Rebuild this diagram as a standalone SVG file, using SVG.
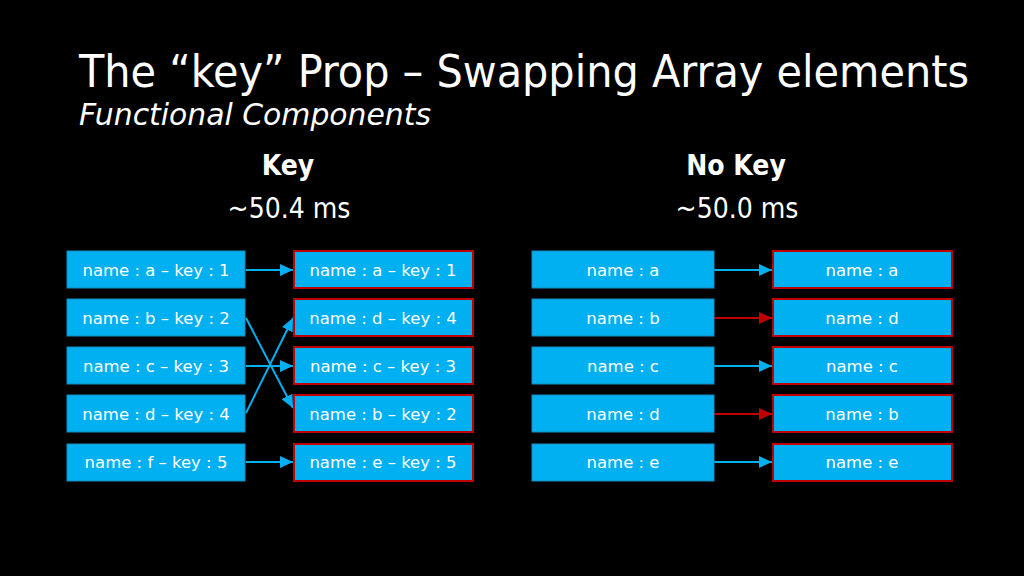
<svg xmlns="http://www.w3.org/2000/svg" width="1024" height="576" viewBox="0 0 1024 576">
<defs>
<marker id="ab" markerWidth="13" markerHeight="12" refX="13" refY="6" orient="auto" markerUnits="userSpaceOnUse"><path d="M0,0 L13,6 L0,12 Z" fill="#00B0F0"/></marker>
<marker id="ar" markerWidth="13" markerHeight="12" refX="13" refY="6" orient="auto" markerUnits="userSpaceOnUse"><path d="M0,0 L13,6 L0,12 Z" fill="#C00000"/></marker>
<style>
text{font-family:"DejaVu Sans Condensed","DejaVu Sans",sans-serif;fill:#fff}
.src{fill:#00B0F0;stroke:#1A8CBF;stroke-width:1}
.dst{fill:#00B0F0;stroke:#C00000;stroke-width:2}
.lbl{font-family:"DejaVu Sans",sans-serif;font-size:16.5px;text-anchor:middle;dominant-baseline:central}
.cb{stroke:#00B0F0;stroke-width:2;fill:none;marker-end:url(#ab)}
.cr{stroke:#C00000;stroke-width:2;fill:none;marker-end:url(#ar)}
.h{font-size:28px;text-anchor:middle}
</style>
</defs>
<rect width="1024" height="576" fill="#000"/>
<text x="79" y="87" font-size="44" textLength="890" lengthAdjust="spacingAndGlyphs">The “key” Prop – Swapping Array elements</text>
<text x="79" y="125" font-size="30" font-style="italic" textLength="352" lengthAdjust="spacingAndGlyphs">Functional Components</text>
<text class="h" x="288" y="175" font-weight="bold">Key</text>
<text class="h" x="289" y="218">~50.4 ms</text>
<text class="h" x="736" y="175" font-weight="bold">No Key</text>
<text class="h" x="737" y="218">~50.0 ms</text>

<g id="connectors">
<line class="cb" x1="246" y1="270" x2="293" y2="270"/>
<line class="cb" x1="246" y1="318" x2="293" y2="408"/>
<line class="cb" x1="246" y1="366" x2="293" y2="366"/>
<line class="cb" x1="246" y1="413" x2="293" y2="318"/>
<line class="cb" x1="246" y1="462" x2="293" y2="462"/>
<line class="cb" x1="714" y1="270" x2="772" y2="270"/>
<line class="cr" x1="714" y1="318" x2="772" y2="318"/>
<line class="cb" x1="714" y1="366" x2="772" y2="366"/>
<line class="cr" x1="714" y1="414" x2="772" y2="414"/>
<line class="cb" x1="714" y1="462" x2="772" y2="462"/>
</g>

<g id="k-src-a"><rect class="src" x="67" y="251" width="178" height="37"/><text class="lbl" x="156" y="270">name : a – key : 1</text></g>
<g id="k-src-b"><rect class="src" x="67" y="299" width="178" height="37"/><text class="lbl" x="156" y="318">name : b – key : 2</text></g>
<g id="k-src-c"><rect class="src" x="67" y="347" width="178" height="37"/><text class="lbl" x="156" y="366">name : c – key : 3</text></g>
<g id="k-src-d"><rect class="src" x="67" y="395" width="178" height="37"/><text class="lbl" x="156" y="414">name : d – key : 4</text></g>
<g id="k-src-f"><rect class="src" x="67" y="444" width="178" height="37"/><text class="lbl" x="156" y="462">name : f – key : 5</text></g>

<g id="k-dst-a"><rect class="dst" x="294" y="251" width="179" height="37"/><text class="lbl" x="383" y="270">name : a – key : 1</text></g>
<g id="k-dst-d"><rect class="dst" x="294" y="299" width="179" height="37"/><text class="lbl" x="383" y="318">name : d – key : 4</text></g>
<g id="k-dst-c"><rect class="dst" x="294" y="347" width="179" height="37"/><text class="lbl" x="383" y="366">name : c – key : 3</text></g>
<g id="k-dst-b"><rect class="dst" x="294" y="395" width="179" height="37"/><text class="lbl" x="383" y="414">name : b – key : 2</text></g>
<g id="k-dst-e"><rect class="dst" x="294" y="444" width="179" height="37"/><text class="lbl" x="383" y="462">name : e – key : 5</text></g>

<g id="n-src-a"><rect class="src" x="532" y="251" width="182" height="37"/><text class="lbl" x="623" y="270">name : a</text></g>
<g id="n-src-b"><rect class="src" x="532" y="299" width="182" height="37"/><text class="lbl" x="623" y="318">name : b</text></g>
<g id="n-src-c"><rect class="src" x="532" y="347" width="182" height="37"/><text class="lbl" x="623" y="366">name : c</text></g>
<g id="n-src-d"><rect class="src" x="532" y="395" width="182" height="37"/><text class="lbl" x="623" y="414">name : d</text></g>
<g id="n-src-e"><rect class="src" x="532" y="444" width="182" height="37"/><text class="lbl" x="623" y="462">name : e</text></g>

<g id="n-dst-a"><rect class="dst" x="773" y="251" width="179" height="37"/><text class="lbl" x="862" y="270">name : a</text></g>
<g id="n-dst-d"><rect class="dst" x="773" y="299" width="179" height="37"/><text class="lbl" x="862" y="318">name : d</text></g>
<g id="n-dst-c"><rect class="dst" x="773" y="347" width="179" height="37"/><text class="lbl" x="862" y="366">name : c</text></g>
<g id="n-dst-b"><rect class="dst" x="773" y="395" width="179" height="37"/><text class="lbl" x="862" y="414">name : b</text></g>
<g id="n-dst-e"><rect class="dst" x="773" y="444" width="179" height="37"/><text class="lbl" x="862" y="462">name : e</text></g>
</svg>
